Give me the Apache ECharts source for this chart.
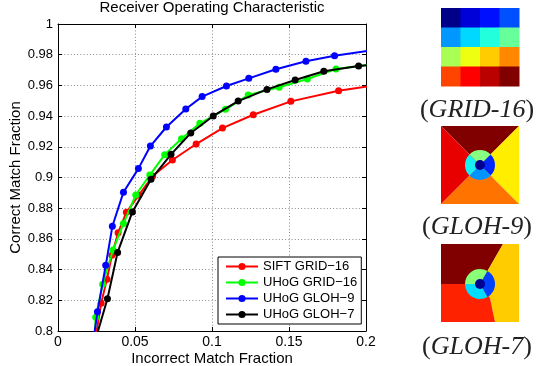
<!DOCTYPE html>
<html>
<head>
<meta charset="utf-8">
<script src="https://cdn.jsdelivr.net/npm/echarts@6/dist/echarts.min.js"></script>
<style>
  html, body { margin: 0; padding: 0; background: #fff; }
  #chart { width: 539px; height: 366px; }
</style>
</head>
<body>
<div id="chart"></div>
<script>
// ROC data
const seriesNames = ['SIFT GRID\u221216', 'UHoG GRID\u221216', 'UHoG GLOH\u22129', 'UHoG GLOH\u22127'];
const seriesColors = ['#ff0000', '#00ff00', '#0000ff', '#000000'];

const siftX = [0.0235, 0.028, 0.0318, 0.035, 0.039, 0.0444, 0.0525, 0.0615, 0.0743, 0.0897, 0.1068, 0.1268, 0.1512, 0.1822, 0.21];
const siftY = [0.79, 0.818, 0.8337, 0.8494, 0.864, 0.8773, 0.8885, 0.901, 0.9114, 0.9218, 0.9322, 0.9409, 0.9496, 0.9565, 0.9608];

const gridX = [0.0233, 0.0245, 0.029, 0.0357, 0.0425, 0.0505, 0.0596, 0.0693, 0.0802, 0.0921, 0.1088, 0.1235, 0.1436, 0.1619, 0.1805, 0.205];
const gridY = [0.79, 0.8089, 0.8305, 0.8528, 0.87, 0.8886, 0.9016, 0.9149, 0.9252, 0.9353, 0.9444, 0.9537, 0.9588, 0.9642, 0.9707, 0.9738];

const gloh9X = [0.0218, 0.0256, 0.031, 0.0353, 0.0425, 0.0522, 0.06, 0.0704, 0.083, 0.0936, 0.1094, 0.1239, 0.1415, 0.161, 0.1796, 0.205];
const gloh9Y = [0.785, 0.8125, 0.8428, 0.8682, 0.8904, 0.9058, 0.9205, 0.9329, 0.9446, 0.9527, 0.9596, 0.9646, 0.9705, 0.9757, 0.9793, 0.9831];

const gloh7X = [0.0231, 0.0321, 0.0387, 0.0483, 0.0604, 0.0734, 0.0862, 0.1008, 0.117, 0.1357, 0.154, 0.1726, 0.1952, 0.215];
const gloh7Y = [0.79, 0.821, 0.8512, 0.8776, 0.8988, 0.9151, 0.929, 0.9401, 0.9498, 0.9574, 0.9635, 0.9692, 0.9726, 0.9745];

const xTickLabels = ['0', '0.05', '0.1', '0.15', '0.2'];
const yTickLabels = ['0.8', '0.82', '0.84', '0.86', '0.88', '0.9', '0.92', '0.94', '0.96', '0.98', '1'];

// descriptor pictures on the right
const grid16Colors = [
  '#000088', '#0000d8', '#0010ff', '#0050ff',
  '#0098ff', '#00d8ff', '#22ffdd', '#66ff99',
  '#aaff55', '#eeff11', '#ffcc00', '#ff8800',
  '#ff4400', '#ff0000', '#bb0000', '#800000'
];
const gloh9Outer = ['#800000', '#ffee00', '#ff7400', '#e80000']; // top, right, bottom, left
const gloh9Ring = ['#88ff80', '#0028ff', '#0094ff', '#16f0f0'];  // top, right, bottom, left
const gloh7Outer = ['#800000', '#ffcc00', '#ff2200'];            // top-left, right, bottom-left
const gloh7Ring = ['#88ff77', '#0040ff', '#00dcff'];             // top-left, right, bottom-left
const coreColor = '#000090';
const captions = ['GRID-16', 'GLOH-9', 'GLOH-7'];

const zip = (xs, ys) => xs.map((x, i) => [x, ys[i]]);
const allData = [zip(siftX, siftY), zip(gridX, gridY), zip(gloh9X, gloh9Y), zip(gloh7X, gloh7Y)];

const font = 'Liberation Sans, Arial, sans-serif';
const serif = 'Liberation Serif, Times New Roman, serif';

const chart = echarts.init(document.getElementById('chart'));

const dotted = { color: '#8a8a8a', width: 1, type: [1, 2.2] };

function axisBase(min, max, interval) {
  return {
    type: 'value', min: min, max: max, interval: interval,
    axisLine: { show: true, onZero: false, lineStyle: { color: '#000', width: 1 } },
    axisTick: { show: true, inside: true, length: 4, lineStyle: { color: '#000' } },
  };
}

// pictures
const graphics = [];
const sq = 78, px = 441;
const cell = sq / 4;
grid16Colors.forEach((c, i) => {
  graphics.push({
    type: 'rect', silent: true,
    shape: { x: px + (i % 4) * cell, y: 8 + Math.floor(i / 4) * cell, width: cell + 0.5, height: cell + 0.5 },
    style: { fill: c }
  });
});

// GLOH-9
(function () {
  const y0 = 126, cx = px + sq / 2, cy = y0 + sq / 2;
  const tl = [px, y0], tr = [px + sq, y0], br = [px + sq, y0 + sq], bl = [px, y0 + sq], c = [cx, cy];
  const tris = [[tl, tr, c], [tr, br, c], [br, bl, c], [bl, tl, c]];
  tris.forEach((p, i) => graphics.push({ type: 'polygon', silent: true, shape: { points: p }, style: { fill: gloh9Outer[i] } }));
  const starts = [-135, -45, 45, 135];
  starts.forEach((a, i) => graphics.push({
    type: 'sector', silent: true,
    shape: { cx: cx, cy: cy, r0: 0, r: 15, startAngle: a * Math.PI / 180, endAngle: (a + 90) * Math.PI / 180 },
    style: { fill: gloh9Ring[i] }
  }));
  graphics.push({ type: 'circle', silent: true, shape: { cx: cx, cy: cy, r: 5 }, style: { fill: coreColor } });
})();

// GLOH-7
(function () {
  const y0 = 244, cx = px + sq / 2, cy = y0 + sq / 2 + 1;
  const c = [cx, cy];
  const topCut = [503, y0], midCut = [490, 298], botCut = [495, y0 + sq];
  graphics.push({ type: 'polygon', silent: true, shape: { points: [[px, y0], topCut, c, [px, cy]] }, style: { fill: gloh7Outer[0] } });
  graphics.push({ type: 'polygon', silent: true, shape: { points: [topCut, [px + sq, y0], [px + sq, y0 + sq], botCut, midCut, c] }, style: { fill: gloh7Outer[1] } });
  graphics.push({ type: 'polygon', silent: true, shape: { points: [[px, cy], c, midCut, botCut, [px, y0 + sq]] }, style: { fill: gloh7Outer[2] } });
  const arcs = [[180, 300], [300, 420], [60, 180]];
  arcs.forEach((a, i) => graphics.push({
    type: 'sector', silent: true,
    shape: { cx: cx, cy: cy, r0: 0, r: 15, startAngle: a[0] * Math.PI / 180, endAngle: a[1] * Math.PI / 180 },
    style: { fill: gloh7Ring[i] }
  }));
  graphics.push({ type: 'circle', silent: true, shape: { cx: cx, cy: cy, r: 5 }, style: { fill: coreColor } });
})();

const captionY = [110, 227, 347];
captions.forEach((t, i) => {
  graphics.push({
    type: 'text', silent: true, x: 477, y: captionY[i],
    style: {
      text: '{p|(}{i|' + t + '}{p|)}',
      align: 'center', verticalAlign: 'middle',
      fill: '#222',
      rich: {
        p: { fontFamily: serif, fontSize: 26, fill: '#222' },
        i: { fontFamily: serif, fontSize: 26, fontStyle: 'italic', fill: '#222' }
      }
    }
  });
});

const option = {
  animation: false,
  backgroundColor: '#fff',
  textStyle: { fontFamily: font },
  title: {
    text: 'Receiver Operating Characteristic',
    left: 212, top: 0, textAlign: 'center', padding: 0,
    textStyle: { fontFamily: font, fontSize: 15, fontWeight: 'normal', color: '#000' }
  },
  grid: { left: 58, top: 24, width: 308, height: 307, containLabel: false, outerBoundsMode: 'none' },
  legend: {
    orient: 'vertical', left: 218, top: 257,
    data: seriesNames,
    itemWidth: 32, itemHeight: 9, itemGap: 3,
    padding: [3, 4, 3, 7],
    backgroundColor: '#fff', borderColor: '#000', borderWidth: 1,
    textStyle: { fontFamily: font, fontSize: 13, color: '#000', padding: [0, 0, 0, 0] },
    z: 10
  },
  xAxis: [
    Object.assign(axisBase(0, 0.2, 0.05), {
      position: 'bottom',
      name: 'Incorrect Match Fraction', nameLocation: 'middle', nameGap: 20,
      nameMoveOverlap: false,
      nameTextStyle: { fontFamily: font, fontSize: 15, color: '#000' },
      axisLabel: {
        margin: 4, color: '#000', fontSize: 14, fontFamily: font,
        formatter: v => xTickLabels[Math.round(v / 0.05)]
      },
      splitLine: { show: true, lineStyle: dotted }
    }),
    Object.assign(axisBase(0, 0.2, 0.05), {
      position: 'top', axisLabel: { show: false }, splitLine: { show: false }
    })
  ],
  yAxis: [
    Object.assign(axisBase(0.8, 1, 0.02), {
      position: 'left',
      name: 'Correct Match Fraction', nameLocation: 'middle', nameGap: 35,
      nameMoveOverlap: false,
      nameTextStyle: { fontFamily: font, fontSize: 15, color: '#000' },
      axisLabel: {
        margin: 5, color: '#000', fontSize: 13, fontFamily: font,
        formatter: v => yTickLabels[Math.round((v - 0.8) / 0.02)]
      },
      splitLine: { show: true, lineStyle: dotted }
    }),
    Object.assign(axisBase(0.8, 1, 0.02), {
      position: 'right', axisLabel: { show: false }, splitLine: { show: false }
    })
  ],
  series: seriesNames.map((name, i) => ({
    name: name,
    type: 'line',
    data: allData[i],
    xAxisIndex: 0, yAxisIndex: 0,
    clip: true,
    symbol: 'circle', symbolSize: 7,
    showAllSymbol: true,
    color: seriesColors[i],
    lineStyle: { color: seriesColors[i], width: 2 },
    itemStyle: { color: seriesColors[i] },
    z: 2 + i
  })),
  graphic: graphics
};

chart.setOption(option);
</script>
</body>
</html>
